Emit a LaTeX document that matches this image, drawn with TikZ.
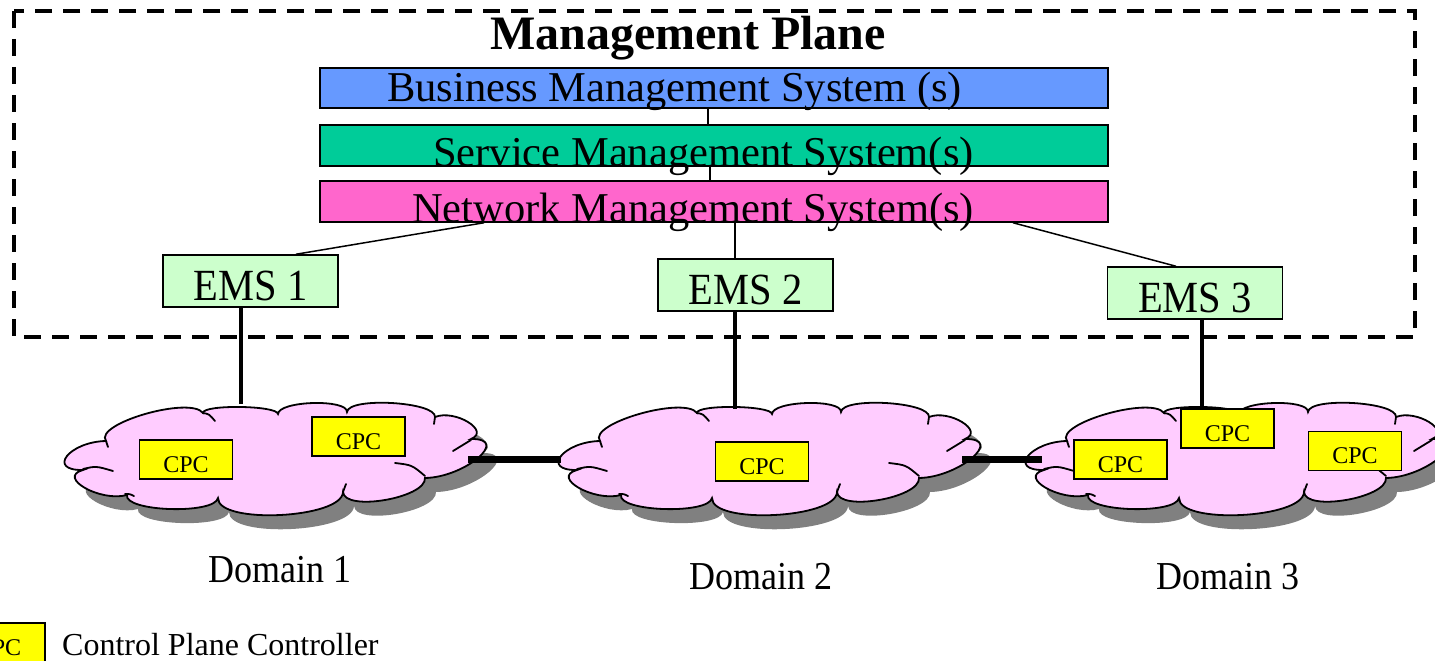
\documentclass[tikz,border=0pt]{standalone}
\usepackage{fontspec}
\setmainfont{Liberation Serif}
\usepackage{graphicx}

\definecolor{bmsblue}{HTML}{6699FF}
\definecolor{smsgreen}{HTML}{00CC99}
\definecolor{nmspink}{HTML}{FF66CC}
\definecolor{emsgreen}{HTML}{CCFFCC}
\definecolor{cloudpink}{HTML}{FFCCFF}
\definecolor{cpcyellow}{HTML}{FFFF00}
\definecolor{cloudshadow}{HTML}{808080}

\newcommand\tallish[1]{\scalebox{1}[1.1]{#1}}

\tikzset{
  bar/.style={draw=black, line width=1.5pt, minimum width=788pt, inner sep=0pt},
  bartext/.style={font=\fontsize{42.5}{50}\selectfont, inner sep=0pt, anchor=base},
  emsbox/.style={draw=black, line width=1.5pt, fill=emsgreen, minimum width=175pt,
    inner sep=0pt, text height=45pt, text depth=7pt, font=\fontsize{40.5}{48}\selectfont},
  cpcbox/.style={draw=black, line width=1.5pt, fill=cpcyellow, minimum width=93pt,
    inner sep=0pt, text height=32pt, text depth=7pt, font=\fontsize{24}{28}\selectfont},
  domainlabel/.style={font=\fontsize{36}{42}\selectfont, inner sep=0pt, anchor=base},
  thinlink/.style={line width=1.5pt},
  droplink/.style={line width=4pt},
  domainlink/.style={line width=7pt},
  cloudblob/.pic={
    \path[pic actions] (106,441)
      .. controls (69.3,441.7) and (46.3,470.7) .. (83,470)
      .. controls (56.3,477.3) and (100.3,502.3) .. (127,495)
      .. controls (123.7,511.7) and (214.7,514.7) .. (218,498)
      .. controls (217.3,524.7) and (342.3,518.7) .. (343,492)
      .. controls (344.3,512) and (426.3,498) .. (425,478)
      .. controls (465,477.3) and (511,438.3) .. (471,439)
      .. controls (491,431) and (455,409) .. (435,417)
      .. controls (436.3,401.7) and (348.3,396.7) .. (347,412)
      .. controls (347.7,398.7) and (278.7,400.7) .. (278,414)
      .. controls (277.3,405.3) and (202.3,404.3) .. (203,413)
      .. controls (190.3,395.7) and (93.3,423.7) .. (106,441) -- cycle;
  },
  domaincloud/.pic={
    \pic[fill=cloudshadow] at (11,14) {cloudblob};
    \pic[fill=cloudpink, draw=black, line width=1.8pt] at (0,0) {cloudblob};
    % inner puff strokes
    \draw[line width=1.8pt, line cap=round]
      (203,413) .. controls (209,414) .. (215,421)
      (83,469) .. controls (96,466) .. (113,471)
      (125,494) .. controls (130,494) .. (134,496)
      (343,492) .. controls (344,488) .. (346,484)
      (395,463) .. controls (412,465) .. (425,476)
      (453,451) .. controls (462,446) .. (471,440)
      (435,417) .. controls (434,420) .. (434,424)
      (106,441) .. controls (107,444) .. (108,447);
  }
}

\begin{document}
\begin{tikzpicture}[x=1pt, y=-1pt]
\useasboundingbox (0,0) rectangle (1435,661);
\clip (0,0) rectangle (1435,661);

% management plane frame
\draw[line width=4pt, dash pattern=on 17pt off 11pt] (14,11) rectangle (1415,337);
\node[anchor=base, inner sep=0pt, font=\fontsize{48}{56}\selectfont\bfseries] (title) at (688,49) {Management Plane};

% management system layers
\node[bar, fill=bmsblue, minimum height=40pt] (bms) at (714,88) {};
\node[bar, fill=smsgreen, minimum height=41pt] (sms) at (714,145.5) {};
\node[bar, fill=nmspink, minimum height=41pt] (nms) at (714,201.5) {};

% tap points along the layers
\coordinate (tapA) at (708,0);
\coordinate (tapB) at (710,0);
\coordinate (tapC) at (484,0);
\coordinate (tapD) at (296,0);
\coordinate (tapE) at (735,0);
\coordinate (tapF) at (1013,0);
\coordinate (tapG) at (1176,0);

% element management systems
\node[emsbox] (ems1) at (250.5,281) {\tallish{EMS 1}};
\node[emsbox] (ems2) at (745.5,285) {\tallish{EMS 2}};
\node[emsbox] (ems3) at (1195,293) {\tallish{EMS 3}};

\draw[thinlink] (bms.south -| tapA) -- (sms.north -| tapA);
\draw[thinlink] (sms.south -| tapB) -- (nms.north -| tapB);
\draw[thinlink] (nms.south -| tapC) -- (ems1.north -| tapD);
\draw[thinlink] (nms.south -| tapE) -- (ems2.north -| tapE);
\draw[thinlink] (nms.south -| tapF) -- (ems3.north -| tapG);

\node[bartext] (bmsT) at (674.5,102) {Business Management System (s)};
\node[bartext] (smsT) at (703.5,166) {Service Management System(s)};
\node[bartext] (nmsT) at (693,222) {Network Management System(s)};

% domains
\pic at (0,0) {domaincloud};
\pic at (494,0) {domaincloud};
\pic at (961,0) {domaincloud};

\coordinate (d1top) at (241,404);
\coordinate (d2top) at (735,409);
\coordinate (e3x) at (1202,0);
\coordinate (d1e) at (468,459);
\coordinate (d2w) at (561,459);
\coordinate (d2e) at (962,459);
\coordinate (d3w) at (1042,459);

\node[cpcbox] (cpc1a) at (186,459.5) {CPC};
\node[cpcbox] (cpc1b) at (358.5,436.5) {CPC};
\node[cpcbox] (cpc2) at (762,461.5) {CPC};
\node[cpcbox] (cpc3a) at (1120.5,459.5) {CPC};
\node[cpcbox] (cpc3b) at (1227.5,428.5) {CPC};
\node[cpcbox] (cpc3c) at (1355,451) {CPC};

\draw[droplink] (ems1.south -| d1top) -- (d1top);
\draw[droplink] (ems2.south -| d2top) -- (d2top);
\draw[droplink] (ems3.south -| e3x) -- (cpc3b.north -| e3x);

\draw[domainlink] (d1e) -- (d2w);
\draw[domainlink] (d2e) -- (d3w);

\node[domainlabel] (dom1) at (280,582) {\tallish{Domain 1}};
\node[domainlabel] (dom2) at (761,589) {\tallish{Domain 2}};
\node[domainlabel] (dom3) at (1228,589) {\tallish{Domain 3}};

% legend
\node[cpcbox] (legcpc) at (-1.5,642.5) {CPC};
\node[anchor=base west, inner sep=0pt, font=\fontsize{32}{38}\selectfont] (legtext) at (62,655) {Control Plane Controller};
\end{tikzpicture}
\end{document}
